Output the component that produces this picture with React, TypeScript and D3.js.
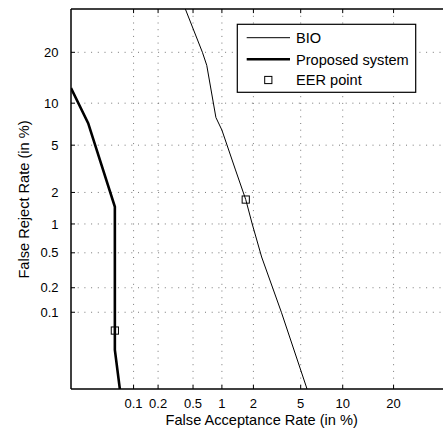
import * as d3 from "d3";

// DET curve values, in percent
const xTicks = [0.1, 0.2, 0.5, 1, 2, 5, 10, 20];
const yTicks = [0.1, 0.2, 0.5, 1, 2, 5, 10, 20];
const xLimits = [0.0141, 40];
const yLimits = [0.0087, 32];

const bioFar = [0.32, 0.63, 0.7, 0.87, 1.0, 1.36, 1.7, 1.95, 2.37, 3.5, 5.8];
const bioFrr = [40, 20, 17, 8, 6.5, 3.15, 1.72, 1.0, 0.45, 0.1, 0.007];

const propFar = [0.0141, 0.0248, 0.0573, 0.0573, 0.0667, 0.069];
const propFrr = [12.5, 7.29, 1.47, 0.0318, 0.0086, 0.0075];

const eerFar = [1.7, 0.0573];
const eerFrr = [1.72, 0.058];

const legendLabels = ["BIO", "Proposed system", "EER point"];

// inverse of the standard normal CDF (Acklam)
function probit(p: number): number {
  const a = [-39.69683028665376, 220.9460984245205, -275.9285104469687, 138.357751867269, -30.66479806614716, 2.506628277459239];
  const b = [-54.47609879822406, 161.5858368580409, -155.6989798598866, 66.80131188771972, -13.28068155288572];
  const c = [-0.007784894002430293, -0.3223964580411365, -2.400758277161838, -2.549732539343734, 4.374664141464968, 2.938163982698783];
  const d = [0.007784695709041462, 0.3224671290700398, 2.445134137142996, 3.754408661907416];
  const pl = 0.02425;
  let q, r;
  if (p < pl) {
    q = Math.sqrt(-2 * Math.log(p));
    return (((((c[0] * q + c[1]) * q + c[2]) * q + c[3]) * q + c[4]) * q + c[5]) /
      ((((d[0] * q + d[1]) * q + d[2]) * q + d[3]) * q + 1);
  } else if (p <= 1 - pl) {
    q = p - 0.5;
    r = q * q;
    return (((((a[0] * r + a[1]) * r + a[2]) * r + a[3]) * r + a[4]) * r + a[5]) * q /
      (((((b[0] * r + b[1]) * r + b[2]) * r + b[3]) * r + b[4]) * r + 1);
  }
  q = Math.sqrt(-2 * Math.log(1 - p));
  return -(((((c[0] * q + c[1]) * q + c[2]) * q + c[3]) * q + c[4]) * q + c[5]) /
    ((((d[0] * q + d[1]) * q + d[2]) * q + d[3]) * q + 1);
}

const pct = (v: number) => probit(v / 100);

const W = 443;
const H = 430;
const left = 71;
const top = 9.1;
const bottom = 389;
const right = 461.6;

const x = d3.scaleLinear().domain([pct(xLimits[0]), pct(xLimits[1])]).range([left, right]);
const y = d3.scaleLinear().domain([pct(yLimits[0]), pct(yLimits[1])]).range([bottom, top]);

const line = d3
  .line<[number, number]>()
  .x((d) => x(pct(d[0])))
  .y((d) => y(pct(d[1])));

const font = "'Liberation Sans', Arial, Helvetica, sans-serif";

export default function App() {
  const bio = bioFar.map((v, i) => [v, bioFrr[i]] as [number, number]);
  const prop = propFar.map((v, i) => [v, propFrr[i]] as [number, number]);
  const grid = { stroke: "#555", strokeWidth: 0.8, strokeDasharray: "1 5.7" };
  const lx = 237.3;
  const ly = 24.3;
  const rows = [37.7, 59.3, 80];

  return (
    <svg width={W} height={H} style={{ position: "absolute", left: 0, top: 0, background: "#fff" }} fontFamily={font}>
      <defs>
        <clipPath id="plot">
          <rect x={left} y={top} width={right - left} height={bottom - top} />
        </clipPath>
      </defs>
      <rect width={W} height={H} fill="#fff" />

      {/* grid */}
      {xTicks.map((t) => (
        <line key={"gx" + t} x1={x(pct(t))} x2={x(pct(t))} y1={top} y2={bottom} {...grid} />
      ))}
      {yTicks.map((t) => (
        <line key={"gy" + t} x1={left} x2={right} y1={y(pct(t))} y2={y(pct(t))} {...grid} />
      ))}

      {/* ticks */}
      {xTicks.map((t) => (
        <g key={"tx" + t}>
          <line x1={x(pct(t))} x2={x(pct(t))} y1={bottom} y2={bottom - 4} stroke="#000" />
          <line x1={x(pct(t))} x2={x(pct(t))} y1={top} y2={top + 4} stroke="#000" />
          <text x={x(pct(t))} y={407.5} fontSize={13} textAnchor="middle">{t}</text>
        </g>
      ))}
      {yTicks.map((t) => (
        <g key={"ty" + t}>
          <line x1={left} x2={left + 4} y1={y(pct(t))} y2={y(pct(t))} stroke="#000" />
          <text x={58.5} y={y(pct(t)) + 4.6} fontSize={13} textAnchor="end">{t}</text>
        </g>
      ))}

      {/* curves */}
      <g clipPath="url(#plot)">
        <path d={line(bio) || ""} fill="none" stroke="#000" strokeWidth={1} />
        <path d={line(prop) || ""} fill="none" stroke="#000" strokeWidth={2.6} />
        {eerFar.map((v, i) => (
          <rect key={"eer" + i} x={x(pct(v)) - 3.6} y={y(pct(eerFrr[i])) - 3.6} width={7.2} height={7.2}
            fill="none" stroke="#000" strokeWidth={1} />
        ))}
      </g>

      {/* frame */}
      <line x1={left} x2={left} y1={top} y2={bottom} stroke="#000" strokeWidth={1.5} />
      <line x1={left} x2={W} y1={top} y2={top} stroke="#000" strokeWidth={1.5} />
      <line x1={left} x2={W} y1={bottom} y2={bottom} stroke="#000" strokeWidth={1.5} />

      {/* legend */}
      <rect x={lx} y={ly} width={178.4} height={68} fill="#fff" stroke="#000" strokeWidth={1.2} />
      <line x1={246.7} x2={290} y1={rows[0]} y2={rows[0]} stroke="#000" strokeWidth={1} />
      <line x1={246.7} x2={290} y1={rows[1]} y2={rows[1]} stroke="#000" strokeWidth={2.6} />
      <rect x={268.3 - 3.6} y={rows[2] - 3.6} width={7.2} height={7.2} fill="none" stroke="#000" />
      {legendLabels.map((s, i) => (
        <text key={s} x={296} y={rows[i] + 5.2} fontSize={14.6}>{s}</text>
      ))}

      {/* axis titles */}
      <text x={261.7} y={424.5} fontSize={14.6} textAnchor="middle">False Acceptance Rate (in %)</text>
      <text transform="translate(28.5,199.5) rotate(-90)" fontSize={14.6} textAnchor="middle">False Reject Rate (in %)</text>
    </svg>
  );
}
